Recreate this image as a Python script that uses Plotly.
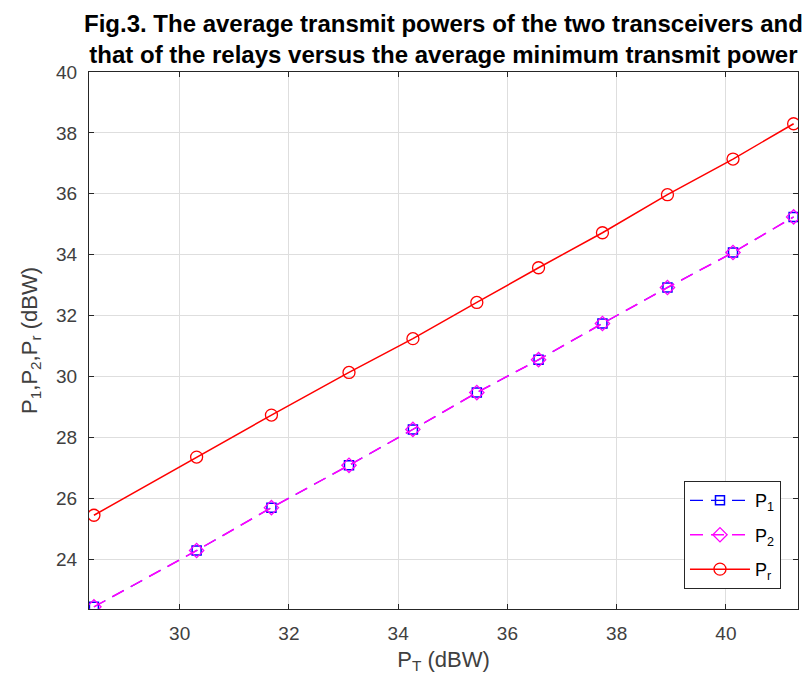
import plotly.graph_objects as go

# Data
PT = [28.43, 30.31, 31.68, 33.10, 34.27, 35.44, 36.57, 37.74, 38.93, 40.13, 41.24]
P1 = [22.43, 24.28, 25.69, 27.08, 28.26, 29.47, 30.55, 31.74, 32.92, 34.07, 35.24]
P2 = [22.43, 24.28, 25.69, 27.08, 28.26, 29.47, 30.55, 31.74, 32.92, 34.07, 35.24]
Pr = [25.44, 27.35, 28.73, 30.13, 31.24, 32.43, 33.57, 34.72, 35.97, 37.14, 38.30]

x_ticks = [30, 32, 34, 36, 38, 40]
y_ticks = [24, 26, 28, 30, 32, 34, 36, 38, 40]

FONT = "Liberation Sans, Arial, sans-serif"
AX = "#262626"
TXT = "#404040"

fig = go.Figure()
fig.add_trace(go.Scatter(
    x=PT, y=P1, name="P<sub>1</sub>", mode="lines+markers",
    line=dict(color="#0000ff", width=1.1, dash="13px,8px"),
    marker=dict(symbol="square-open", size=9, color="#0000ff", line=dict(width=1.5)),
    legendgroup="a"))
fig.add_trace(go.Scatter(
    x=PT, y=P2, name="P<sub>2</sub>", mode="lines+markers",
    line=dict(color="#ff00ff", width=1.6, dash="13px,8px"),
    marker=dict(symbol="diamond-open", size=11, color="#ff00ff", line=dict(width=1.3)),
    legendgroup="b"))
fig.add_trace(go.Scatter(
    x=PT, y=Pr, name="P<sub>r</sub>", mode="lines+markers",
    line=dict(color="#ff0000", width=1.5),
    marker=dict(symbol="circle-open", size=12, color="#ff0000", line=dict(width=1.3)),
    legendgroup="c"))

axis_common = dict(
    showgrid=True, gridcolor="#dedede", gridwidth=1,
    showline=True, linecolor=AX, linewidth=1, mirror="ticks",
    ticks="inside", ticklen=5, tickcolor=AX,
    tickfont=dict(family=FONT, size=19, color=TXT),
    zeroline=False,
)

fig.update_xaxes(range=[28.34, 41.32], tickvals=x_ticks, ticklabelstandoff=7,
                 title=dict(text="P<sub>T</sub> (dBW)", font=dict(family=FONT, size=22, color=TXT), standoff=8),
                 **axis_common)
fig.update_yaxes(range=[22.36, 40], tickvals=y_ticks, ticklabelstandoff=7,
                 title=dict(text="P<sub>1</sub>,P<sub>2</sub>,P<sub>r</sub> (dBW)", font=dict(family=FONT, size=22, color=TXT), standoff=12),
                 **axis_common)

fig.update_layout(
    width=802, height=686,
    margin=dict(l=89, r=4, t=72, b=77),
    paper_bgcolor="white", plot_bgcolor="white",
    legend=dict(
        x=0.976, y=0.037, xanchor="right", yanchor="bottom",
        bgcolor="white", bordercolor=AX, borderwidth=1,
        font=dict(family=FONT, size=18, color="#000000"),
        itemwidth=60, tracegroupgap=8),
    showlegend=True,
    annotations=[dict(
        text="<b>Fig.3. The average transmit powers of the two transceivers and<br>that of the relays versus the average minimum transmit power</b>",
        font=dict(family=FONT, size=24, color="#000000"),
        x=0.5, xref="paper", xanchor="center",
        y=1.004, yref="paper", yanchor="bottom", showarrow=False)],
)

fig.write_html("out.html")
